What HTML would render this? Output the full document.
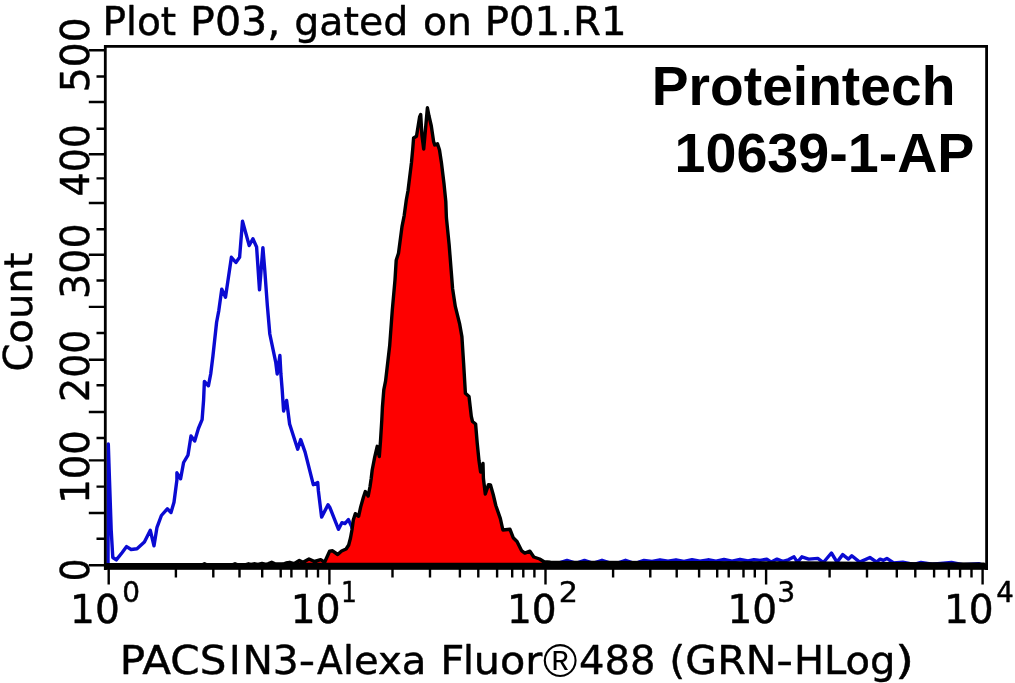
<!DOCTYPE html>
<html><head><meta charset="utf-8"><title>Plot P03, gated on P01.R1</title>
<style>html,body{margin:0;padding:0;background:#fff}svg{display:block}text{fill:#000}.v{stroke:#000;stroke-width:.45px;stroke-linejoin:round}</style></head>
<body>
<svg width="1015" height="683" viewBox="0 0 1015 683">
<rect width="1015" height="683" fill="#fff"/>
<polyline points="108.0,566.0 108.3,444.0 109.5,480.0 111.2,530.0 112.8,557.5 116.3,559.9 122.2,552.5 126.6,546.6 131.1,549.5 137.0,548.8 144.4,542.1 150.3,530.3 154.0,545.8 157.0,527.3 161.4,515.5 167.3,508.8 171.0,512.5 174.0,502.2 176.9,480.0 176.9,472.8 180.6,478.8 183.6,462.5 188.0,455.1 191.0,435.9 194.7,441.0 198.4,428.5 202.1,419.6 203.6,400.0 204.4,381.4 208.4,385.8 210.7,374.0 212.9,356.2 216.6,322.2 218.8,310.6 221.8,289.1 225.5,297.3 231.4,257.3 235.9,262.5 239.6,257.3 242.5,221.1 249.2,245.5 252.9,238.8 256.6,247.0 259.5,289.9 262.9,247.7 264.7,269.2 267.3,305.0 269.8,334.0 275.7,362.1 277.2,374.0 279.9,355.5 280.9,374.0 282.2,390.0 283.6,411.0 286.6,400.4 289.6,424.0 297.7,449.2 300.7,439.6 305.1,452.1 313.3,484.7 317.7,482.5 318.4,491.0 321.6,517.1 328.0,504.8 330.0,507.8 338.5,529.3 341.9,522.7 344.9,523.6 348.4,519.6 351.5,526.2 356.0,540.0 400.0,560.0 545.0,562.6 560.0,562.6 567.0,560.4 574.0,562.6 578.0,562.6 584.5,560.4 591.0,562.6 595.0,562.6 602.0,560.3 609.0,562.6 619.0,562.6 625.5,560.3 632.0,562.6 638.0,562.4 644.0,560.4 652.0,561.4 660.0,559.8 668.0,561.2 676.0,559.8 684.0,561.3 692.0,559.6 700.0,561.2 708.0,559.8 716.0,561.1 724.0,559.4 732.0,561.1 740.0,559.3 748.0,561.0 754.0,559.6 760.0,560.4 766.8,559.1 771.3,562.1 777.0,559.1 782.7,561.4 788.3,559.8 794.0,556.8 797.4,562.1 801.9,556.8 808.7,559.1 817.8,558.4 823.4,562.5 831.4,553.0 837.0,562.1 842.7,554.6 848.4,559.1 851.8,555.7 859.7,562.1 869.9,557.5 876.7,562.1 880.1,559.1 883.5,560.3 886.9,558.4 893.7,563.0 902.8,562.1 914.0,564.3 920.9,562.5 932.2,564.3 951.5,562.5 964.0,564.8 978.7,563.7 984.0,565.8" fill="none" stroke="#0a0ad2" stroke-width="3.4" stroke-linejoin="round"/>
<polygon points="107.0,564.6 203.0,564.6 204.5,563.8 206.0,564.6 233.0,564.6 235.0,563.8 237.0,564.6 246.0,564.6 248.5,563.8 251.0,564.4 255.0,563.8 258.0,564.4 262.0,563.4 266.0,564.4 268.5,563.6 271.7,562.2 275.5,564.0 283.0,564.0 286.0,563.0 289.7,562.3 294.0,563.6 299.3,560.5 303.0,562.3 309.0,559.0 314.5,561.5 320.7,559.6 324.6,562.2 329.6,551.2 332.6,550.8 337.7,554.5 341.6,551.0 346.1,549.0 348.7,545.0 350.5,538.0 352.0,529.7 353.3,520.1 355.3,513.7 358.6,516.3 360.7,506.9 363.4,497.2 365.3,491.5 368.2,496.0 370.0,486.7 371.2,478.5 372.2,470.0 374.7,457.2 377.2,446.3 379.3,456.5 380.5,441.0 381.8,420.0 382.4,407.5 383.8,389.8 385.6,380.9 389.7,345.5 392.3,310.0 395.0,279.8 396.2,260.3 398.5,253.2 402.0,226.6 404.2,215.6 406.3,200.0 408.0,190.8 411.5,162.4 412.8,148.2 413.6,138.0 416.5,136.3 419.6,117.0 420.7,114.5 421.9,135.0 423.7,149.0 427.4,107.8 429.0,116.0 431.3,126.0 433.6,141.5 434.7,145.0 437.5,143.8 439.5,150.0 441.4,162.4 444.0,183.7 445.8,201.4 446.4,217.7 449.1,244.3 451.2,270.9 452.6,288.7 455.3,306.4 459.7,324.2 461.9,336.6 463.6,363.2 465.4,393.3 469.0,396.5 471.3,416.4 472.5,421.5 475.6,424.0 477.2,443.0 479.0,460.8 480.6,472.0 483.0,463.5 483.4,478.5 485.3,494.0 488.5,484.6 490.5,485.0 493.2,494.5 495.8,505.5 500.3,518.4 502.9,530.0 510.0,529.3 513.2,537.7 517.0,541.5 521.5,550.6 524.8,553.1 529.9,551.2 533.8,557.0 539.6,559.0 544.1,561.8 550.5,562.3 600.0,562.4 700.0,562.6 800.0,563.0 900.0,563.6 984.0,564.2" fill="#fe0000" stroke="#000" stroke-width="3.4" stroke-linejoin="round"/>
<rect x="105" y="563.6" width="881" height="6.2" fill="#000"/>
<path d="M105.3 570V46.4H986.6V570" fill="none" stroke="#000" stroke-width="2.8"/>
<path d="M108.7 568V584.6M329.4 568V584.6M545.5 568V584.6M766.1 568V584.6M982.6 568V584.6M175.9 568V577.4M213.3 568V577.4M239.5 568V577.4M262.2 568V577.4M280.7 568V577.4M291.4 568V577.4M306.6 568V577.4M318.0 568V577.4M392.5 568V577.4M430.0 568V577.4M459.9 568V577.4M478.3 568V577.4M497.1 568V577.4M512.2 568V577.4M523.3 568V577.4M534.4 568V577.4M613.1 568V577.4M650.3 568V577.4M676.7 568V577.4M699.1 568V577.4M717.2 568V577.4M728.7 568V577.4M743.5 568V577.4M754.8 568V577.4M829.6 568V577.4M867.0 568V577.4M896.8 568V577.4M915.3 568V577.4M934.1 568V577.4M948.9 568V577.4M960.1 568V577.4M971.5 568V577.4M88.8 565.3H105M96.5 538.8H105M88.8 513.0H105M96.5 486.6H105M88.8 460.4H105M96.5 438.0H105M88.8 412.0H105M96.5 385.3H105M88.8 359.7H105M96.5 333.0H105M88.8 306.9H105M96.5 280.5H105M88.8 254.8H105M96.5 229.3H105M88.8 203.0H105M96.5 178.4H105M88.8 154.2H105M96.5 128.7H105M88.8 102.0H105M96.5 76.5H105M88.8 50.2H105" stroke="#000" stroke-width="2.4" fill="none"/>
<text class="v" transform="translate(32.00,371.44) rotate(-90)" font-family="'DejaVu Sans', 'Liberation Sans', sans-serif" font-size="39.3" textLength="118.75" lengthAdjust="spacingAndGlyphs">Count</text>
<text class="v" transform="translate(89.00,92.30) rotate(-90)" font-family="'DejaVu Sans', 'Liberation Sans', sans-serif" font-size="39.3" textLength="74.90" lengthAdjust="spacingAndGlyphs">500</text>
<text class="v" transform="translate(89.00,196.39) rotate(-90)" font-family="'DejaVu Sans', 'Liberation Sans', sans-serif" font-size="39.3" textLength="72.30" lengthAdjust="spacingAndGlyphs">400</text>
<text class="v" transform="translate(89.00,299.03) rotate(-90)" font-family="'DejaVu Sans', 'Liberation Sans', sans-serif" font-size="39.3" textLength="75.76" lengthAdjust="spacingAndGlyphs">300</text>
<text class="v" transform="translate(89.00,401.95) rotate(-90)" font-family="'DejaVu Sans', 'Liberation Sans', sans-serif" font-size="39.3" textLength="72.37" lengthAdjust="spacingAndGlyphs">200</text>
<text class="v" transform="translate(89.00,503.76) rotate(-90)" font-family="'DejaVu Sans', 'Liberation Sans', sans-serif" font-size="39.3" textLength="73.41" lengthAdjust="spacingAndGlyphs">100</text>
<text class="v" transform="translate(89.00,581.17) rotate(-90)" font-family="'DejaVu Sans', 'Liberation Sans', sans-serif" font-size="39.3" textLength="22.75" lengthAdjust="spacingAndGlyphs">0</text>
<text x="651.75" y="105.40" font-family="'Liberation Sans', sans-serif" font-size="56" font-weight="bold" textLength="303.61" lengthAdjust="spacingAndGlyphs">Proteintech</text>
<text x="674.52" y="172.20" font-family="'Liberation Sans', sans-serif" font-size="56" font-weight="bold" textLength="299.97" lengthAdjust="spacingAndGlyphs">10639-1-AP</text>
<text class="v" y="34.50" font-family="'DejaVu Sans', 'Liberation Sans', sans-serif" font-size="39.3"><tspan x="102.47" textLength="73.75" lengthAdjust="spacingAndGlyphs">Plot</tspan><tspan> </tspan><tspan x="190.07" textLength="90.30" lengthAdjust="spacingAndGlyphs">P03,</tspan><tspan> </tspan><tspan x="294.29" textLength="113.98" lengthAdjust="spacingAndGlyphs">gated</tspan><tspan> </tspan><tspan x="422.90" textLength="49.01" lengthAdjust="spacingAndGlyphs">on</tspan><tspan> </tspan><tspan x="484.66" textLength="141.93" lengthAdjust="spacingAndGlyphs">P01.R1</tspan></text>
<text class="v" y="673.70" font-family="'DejaVu Sans', 'Liberation Sans', sans-serif" font-size="39.3"><tspan x="119.69" textLength="106.66" lengthAdjust="spacingAndGlyphs">PACS</tspan><tspan x="229.00">I</tspan><tspan x="242.42" textLength="56.35" lengthAdjust="spacingAndGlyphs">N3</tspan><tspan x="298.88" textLength="16.36" lengthAdjust="spacingAndGlyphs">-</tspan><tspan x="316.96" textLength="25.71" lengthAdjust="spacingAndGlyphs">A</tspan><tspan x="342.88">l</tspan><tspan x="354.05" textLength="72.45" lengthAdjust="spacingAndGlyphs">exa</tspan><tspan> </tspan><tspan x="440.19" textLength="24.16" lengthAdjust="spacingAndGlyphs">F</tspan><tspan x="462.92">l</tspan><tspan x="473.88" textLength="68.47" lengthAdjust="spacingAndGlyphs">uor</tspan><tspan x="543.0" y="676.8" font-family="'Liberation Sans', sans-serif" font-size="46.6" stroke="none">®</tspan><tspan x="579.02" y="673.70" textLength="76.44" lengthAdjust="spacingAndGlyphs">488</tspan><tspan> </tspan><tspan x="669.30" textLength="107.21" lengthAdjust="spacingAndGlyphs">(GRN</tspan><tspan x="776.23" textLength="16.76" lengthAdjust="spacingAndGlyphs">-</tspan><tspan x="793.99" textLength="101.47" lengthAdjust="spacingAndGlyphs">HLog</tspan><tspan x="894.95" textLength="19.10" lengthAdjust="spacingAndGlyphs">)</tspan></text>
<text class="v" y="622.50" font-family="'DejaVu Sans', 'Liberation Sans', sans-serif" font-size="38.7"><tspan x="70.11" textLength="49.71" lengthAdjust="spacingAndGlyphs">10</tspan><tspan x="122.22" y="601.80" font-size="27.5" textLength="17.75" lengthAdjust="spacingAndGlyphs">0</tspan></text>
<text class="v" y="622.50" font-family="'DejaVu Sans', 'Liberation Sans', sans-serif" font-size="38.7"><tspan x="290.81" textLength="49.71" lengthAdjust="spacingAndGlyphs">10</tspan><tspan x="340.98" y="601.80" font-size="27.5" textLength="15.90" lengthAdjust="spacingAndGlyphs">1</tspan></text>
<text class="v" y="622.50" font-family="'DejaVu Sans', 'Liberation Sans', sans-serif" font-size="38.7"><tspan x="506.91" textLength="49.71" lengthAdjust="spacingAndGlyphs">10</tspan><tspan x="558.80" y="601.80" font-size="27.5" textLength="19.22" lengthAdjust="spacingAndGlyphs">2</tspan></text>
<text class="v" y="622.50" font-family="'DejaVu Sans', 'Liberation Sans', sans-serif" font-size="38.7"><tspan x="727.51" textLength="49.71" lengthAdjust="spacingAndGlyphs">10</tspan><tspan x="777.25" y="601.80" font-size="27.5" textLength="17.96" lengthAdjust="spacingAndGlyphs">3</tspan></text>
<text class="v" y="622.50" font-family="'DejaVu Sans', 'Liberation Sans', sans-serif" font-size="38.7"><tspan x="944.01" textLength="49.71" lengthAdjust="spacingAndGlyphs">10</tspan><tspan x="996.15" y="601.80" font-size="27.5" textLength="17.56" lengthAdjust="spacingAndGlyphs">4</tspan></text>
</svg>
</body></html>
